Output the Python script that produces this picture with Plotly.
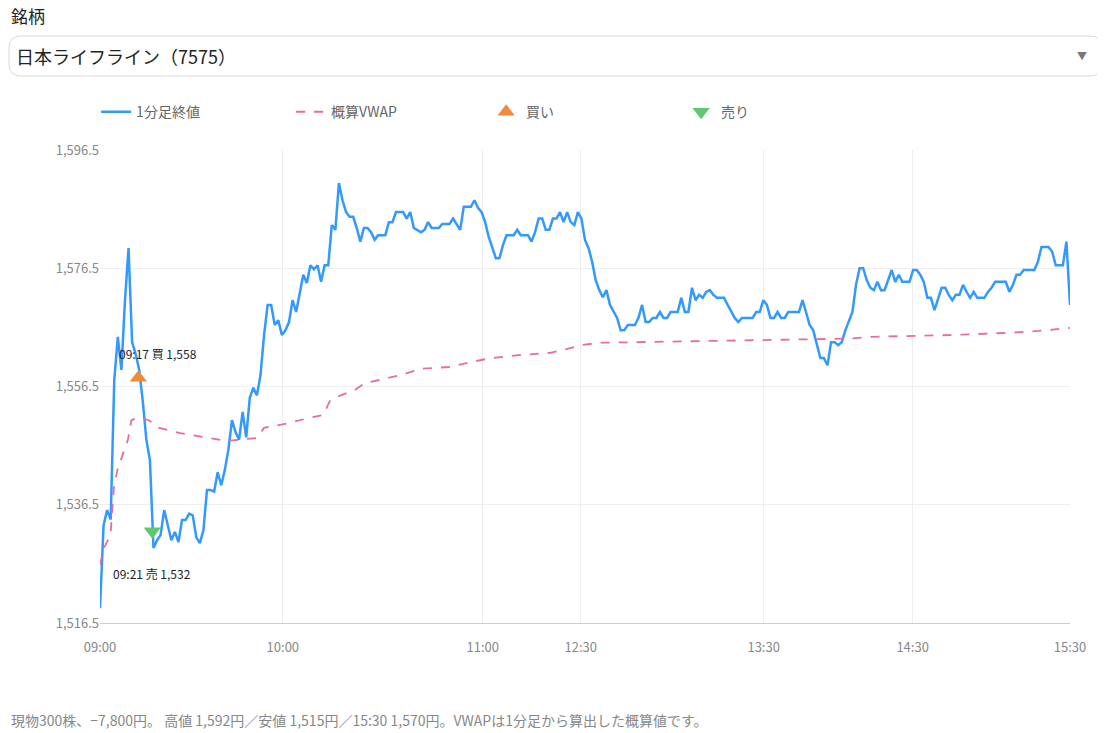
import plotly.graph_objects as go

# 1-minute closing prices (sequential bars, lunch break removed)
prices = [1519,1533,1535.6,1534,1557.6,1564.9,1559.3,1571,1579.9,1564,1562,1559.3,1554,1547.5,1544,1529.2,1530.5,1531.4,1535.6,1533,
1530.5,1531.9,1530.2,1533.9,1533.9,1535,1534.7,1531,1530,1532.2,1539,1539,1538.7,1542,1539.8,1542.4,1545.8,1550.8,1548.8,1547.5,
1552.2,1547.9,1554.6,1556.3,1555,1558.4,1565.2,1570.3,1570.3,1566.9,1567.7,1565.2,1566,1567.4,1571.1,1569.1,1572.5,1575.4,1574,1577,
1576.3,1577,1574.2,1577,1577,1583.8,1583,1590.9,1588,1586,1585.2,1585.2,1583.3,1581,1583.3,1583.3,1582.6,1581.3,1582.1,1582.1,
1582.1,1584.3,1584.3,1586,1586,1586,1584.9,1586,1583.3,1583,1582.6,1583,1584.3,1583.3,1583.3,1583.3,1584,1584,1584,1584.9,
1584,1583,1586.9,1586.9,1586.9,1588,1586.7,1586,1584.3,1581.8,1579.9,1578.2,1578.2,1580.4,1582.1,1582.1,1582.1,1583,1582.1,1582.1,
1582.1,1581,1582.6,1584.9,1584.9,1583,1583,1584.9,1584.9,1586,1584.3,1586,1584.3,1583.8,1586,1584.9,1581.3,1579.9,1577.6,1574.5,
1572.8,1571.6,1572.8,1570.3,1569.1,1568.1,1566,1566,1566.9,1566.9,1566.9,1568.1,1570.3,1567.4,1567.4,1568.1,1568.1,1569.1,1568.1,1568.1,
1569.1,1569.1,1569.1,1571.5,1569.1,1569.1,1573.2,1571.1,1572,1571.5,1572.5,1572.8,1572,1571.5,1571.5,1571.5,1570.3,1569.1,1568.1,1567.4,
1568.1,1568.1,1568.1,1568.1,1569.1,1569.1,1571.1,1570.3,1568.1,1568.1,1569.1,1568.1,1568.1,1569.1,1569.1,1569.1,1569.1,1571.1,1569.1,1566.9,
1566,1563.5,1561.3,1561.3,1560.1,1564,1564,1563.5,1564,1566,1567.4,1569.1,1573.7,1576.5,1576.5,1574.5,1573.2,1572.8,1574.2,1572.8,
1572.8,1574.5,1576.2,1574.2,1575.4,1574.2,1574.2,1574.2,1576.2,1576.2,1575.4,1574.2,1571.5,1571.5,1569.4,1571.5,1573.2,1573.2,1572,1571.1,
1572,1572,1573.7,1572.5,1571.5,1572.5,1571.5,1571.5,1571.5,1572.5,1573.2,1574.2,1574.2,1574.2,1574.2,1572.5,1573.7,1575.4,1575.4,1576.2,
1576.2,1576.2,1576.2,1577.6,1580.1,1580.1,1580.1,1579.3,1577,1577,1577,1581,1570.3]

# approximate VWAP (bar position on a 0..278 scale, value)
vwap_pos = [0,1,3,4,5,6,8,9,11,14,17,23,29,36,40,45,47,54,60,64,66,69,73,76,80,86,92,100,106,112,120,129,133,138,143,172,201,215,221,244,261,269,278]
vwap_val = [1526.3,1529,1531.4,1539.5,1542.4,1544,1547.5,1550.8,1551.3,1550.8,1549.5,1548.6,1548,1547.3,1547.5,1547.8,1549.5,1550.3,1551.2,1551.7,
1554.2,1555,1555.9,1557.1,1557.6,1558.4,1559.5,1559.8,1560.6,1561.3,1561.8,1562.2,1562.7,1563.5,1563.9,1564.2,1564.4,1564.6,1564.9,1565.2,1565.6,1565.9,1566.4]

trade_pos = [11, 15]
trade_price = [1558, 1532]
trade_text = ["09:17 買 1,558", "09:21 売 1,532"]

tick_labels = ["09:00", "10:00", "11:00", "12:30", "13:30", "14:30", "15:30"]
tick_pos = [0, 52.4, 109.7, 137.8, 190.2, 232.9, 278]
y_ticks = [1516.5, 1536.5, 1556.5, 1576.5, 1596.5]

n = len(prices)
scale = 278 / (n - 1)
x = [i * scale for i in range(n)]

FONT = "Noto Sans CJK JP"
fig = go.Figure()
fig.add_trace(go.Scatter(x=x, y=prices, mode="lines", name="1分足終値",
                         line=dict(color="#3399ff", width=2.5)))
fig.add_trace(go.Scatter(x=vwap_pos, y=vwap_val, mode="lines", name="概算VWAP",
                         line=dict(color="#e86aa6", width=1.8, dash="dash")))
fig.add_trace(go.Scatter(x=[trade_pos[0]], y=[trade_price[0]], mode="markers", name="買い",
                         marker=dict(symbol="triangle-up", size=15, color="#f28a3c")))
fig.add_trace(go.Scatter(x=[trade_pos[1]], y=[trade_price[1]], mode="markers", name="売り",
                         marker=dict(symbol="triangle-down", size=15, color="#5cc96e")))

fig.add_annotation(x=trade_pos[0], y=trade_price[0], text=trade_text[0], showarrow=False,
                   yshift=24, xshift=20, font=dict(size=12, color="#222", family=FONT))
fig.add_annotation(x=trade_pos[1], y=trade_price[1], text=trade_text[1], showarrow=False,
                   yshift=-42, xshift=0, font=dict(size=12, color="#222", family=FONT))

# header & dropdown
fig.add_annotation(xref="paper", yref="paper", x=-0.094, y=1.2854, xanchor="left", yanchor="middle",
                   text="銘柄", showarrow=False, font=dict(size=17, color="#222", family=FONT))
x0, x1, y0, y1, rx, ry = -0.0938, 1.0330, 1.1564, 1.2410, 0.0124, 0.0254
fig.add_shape(type="path", xref="paper", yref="paper",
              path=(f"M {x0+rx},{y1} L {x1-rx},{y1} Q {x1},{y1} {x1},{y1-ry} L {x1},{y0+ry} "
                    f"Q {x1},{y0} {x1-rx},{y0} L {x0+rx},{y0} Q {x0},{y0} {x0},{y0+ry} "
                    f"L {x0},{y1-ry} Q {x0},{y1} {x0+rx},{y1} Z"),
              line=dict(color="#d9d9d9", width=1), fillcolor="white")
fig.add_annotation(xref="paper", yref="paper", x=-0.089, y=1.199, xanchor="left", yanchor="middle",
                   text="日本ライフライン（7575）", showarrow=False, font=dict(size=18, color="#222", family=FONT))
fig.add_annotation(xref="paper", yref="paper", x=1.012, y=1.199, xanchor="center", yanchor="middle",
                   text="▼", showarrow=False, font=dict(size=10, color="#777", family=FONT))
fig.add_annotation(xref="paper", yref="paper", x=-0.094, y=-0.205, xanchor="left", yanchor="middle",
                   text="現物300株、−7,800円。 高値 1,592円／安値 1,515円／15:30 1,570円。VWAPは1分足から算出した概算値です。",
                   showarrow=False, font=dict(size=14, color="#888", family=FONT))

fig.update_layout(
    width=1097, height=725,
    margin=dict(l=92, r=35, t=142, b=110),
    paper_bgcolor="white", plot_bgcolor="white",
    font=dict(family=FONT, color="#666", size=13),
    showlegend=True,
    legend=dict(orientation="h", x=-0.004, y=1.08, xanchor="left", yanchor="middle",
                font=dict(size=14, color="#666"), entrywidth=150, entrywidthmode="pixels"),
    xaxis=dict(range=[0, 278], tickvals=tick_pos, ticktext=tick_labels, showgrid=True,
               gridcolor="#eeeeee", showline=True, linecolor="#cccccc", zeroline=False,
               ticks="", ticklabelstandoff=12, tickfont=dict(size=13, color="#888")),
    yaxis=dict(range=[1516.5, 1596.5], tickvals=y_ticks, ticktext=["1,516.5","1,536.5","1,556.5","1,576.5","1,596.5"],
               showgrid=True, gridcolor="#eeeeee", zeroline=False, ticks="",
               tickfont=dict(size=13, color="#888")),
)

fig.write_html("out.html")
